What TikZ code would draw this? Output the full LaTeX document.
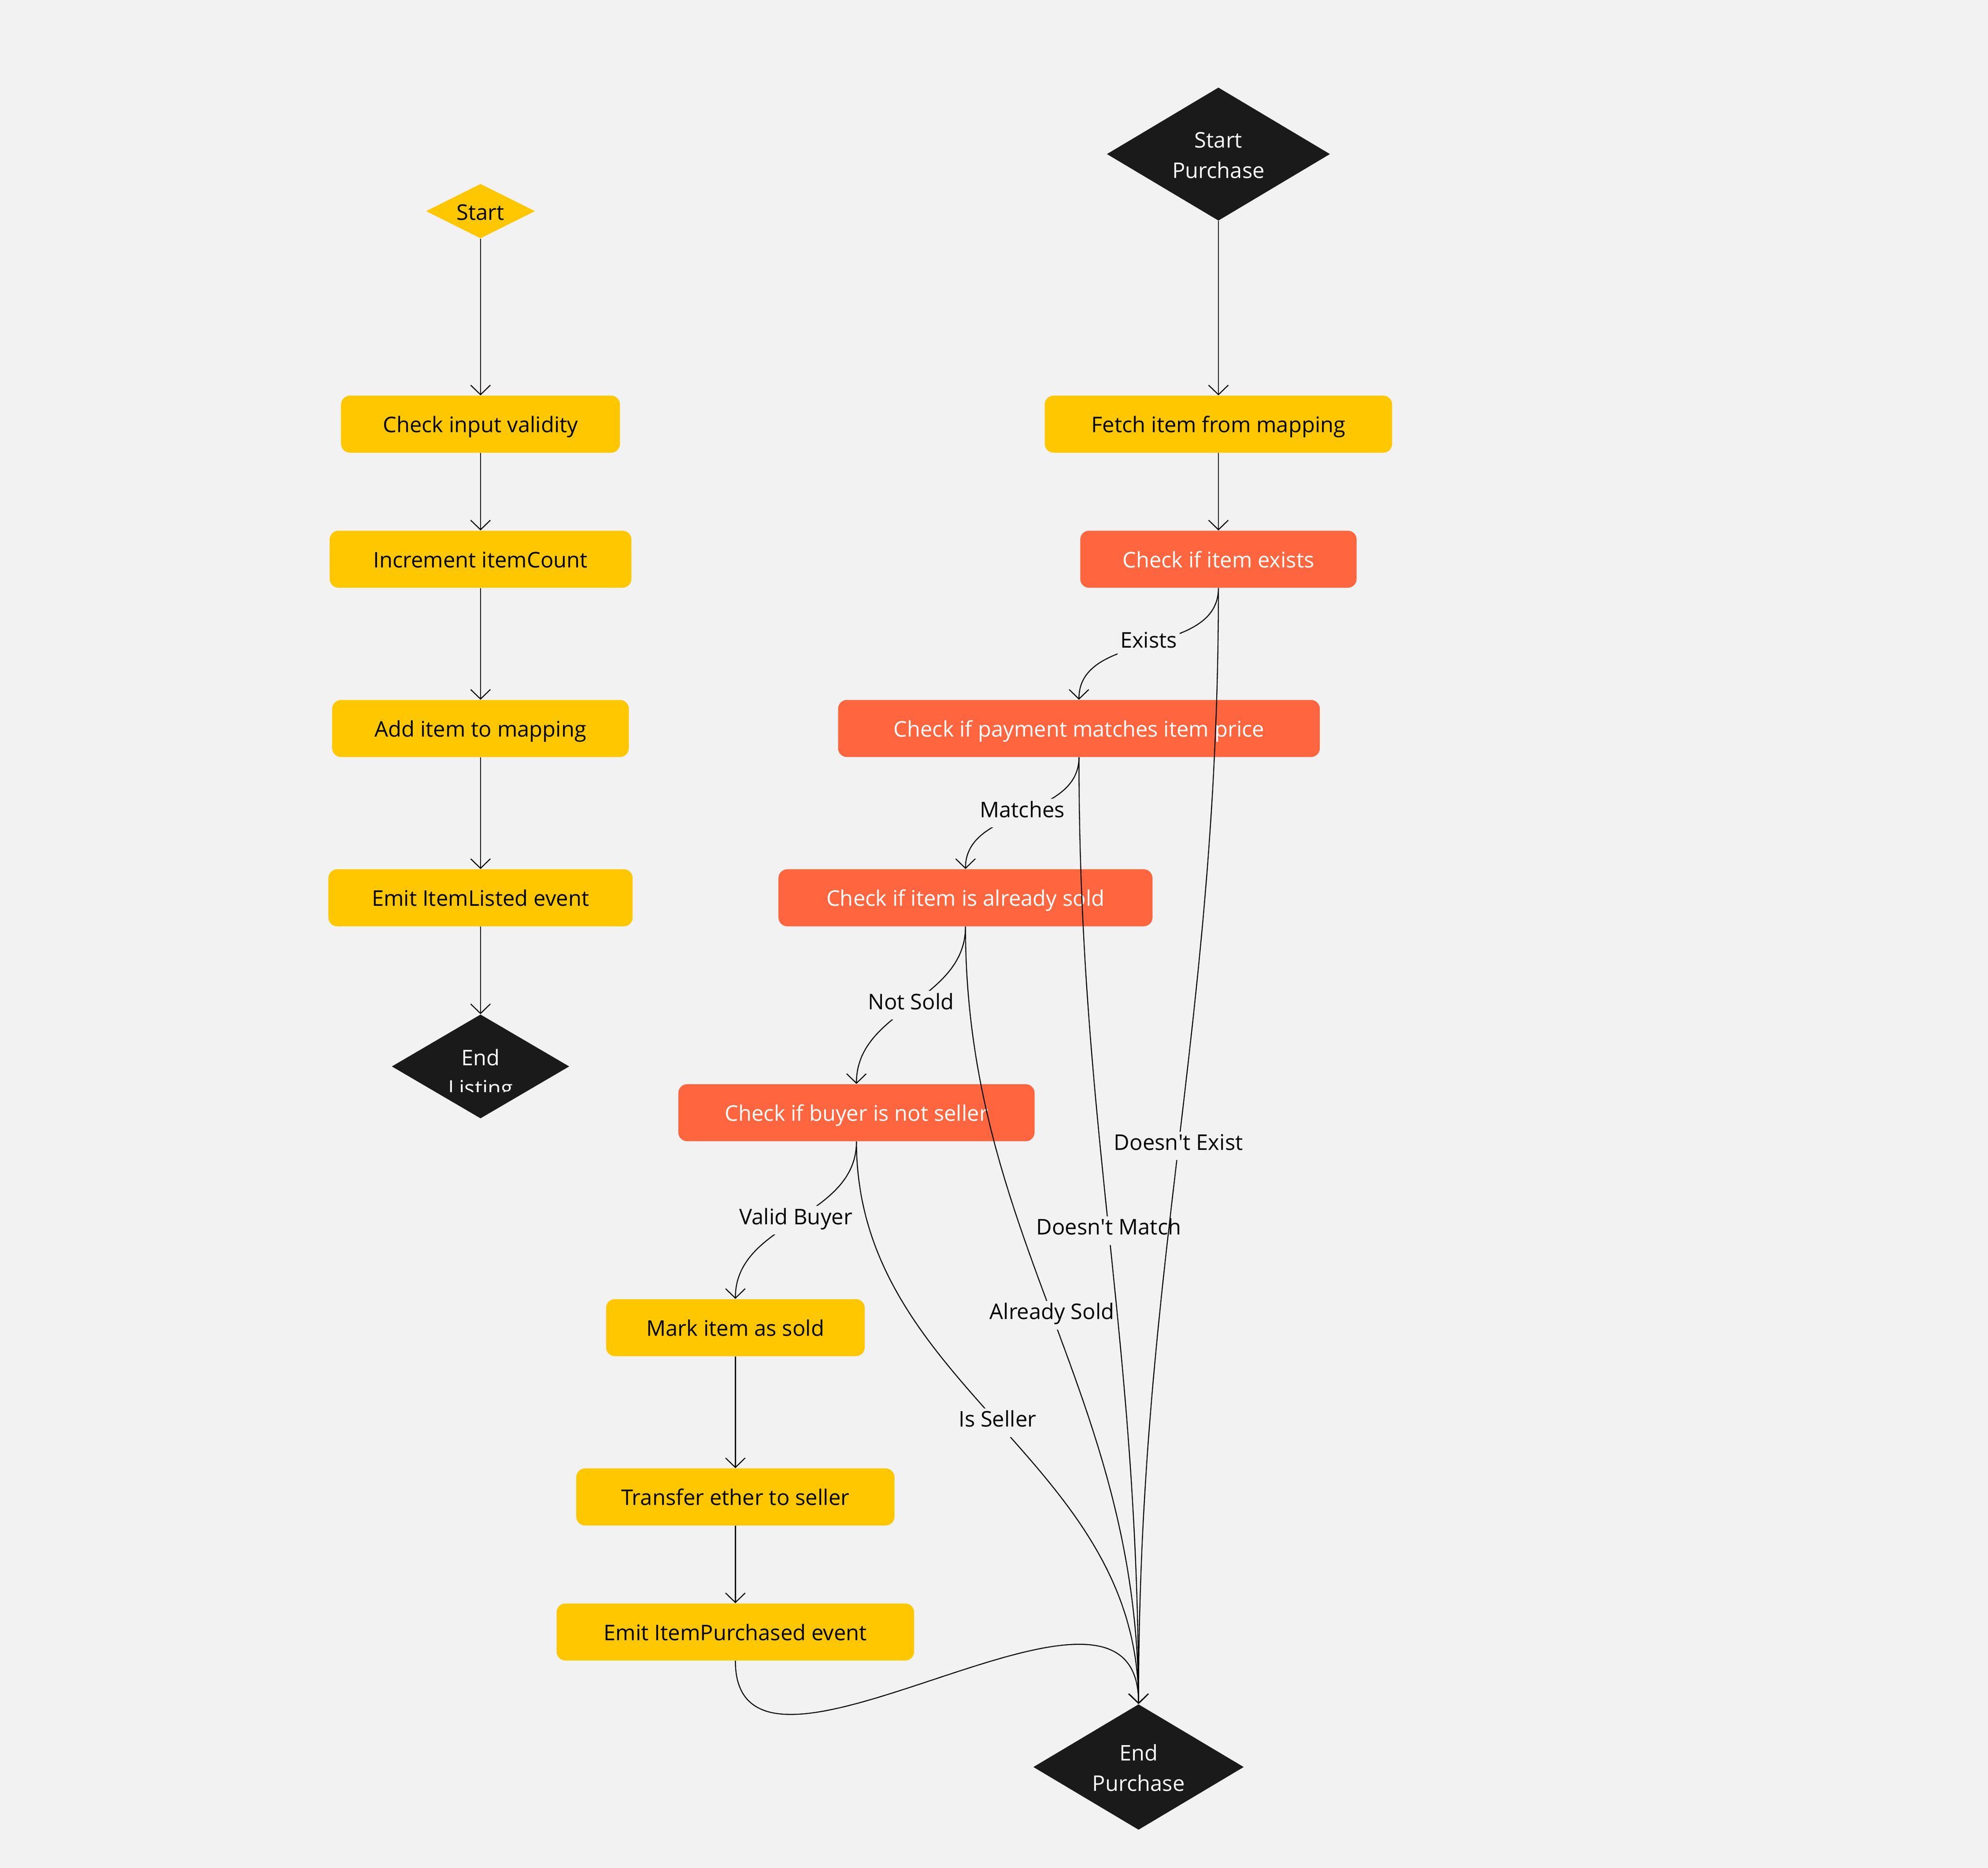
\documentclass[tikz,border=0pt]{standalone}
\usepackage{fontspec}
\setmainfont{Open Sans}
\usetikzlibrary{shapes.geometric,arrows.meta}
\definecolor{bgc}{HTML}{F2F2F2}
\definecolor{yel}{HTML}{FFC700}
\definecolor{org}{HTML}{FF6640}
\definecolor{blk}{HTML}{1A1A1A}
\begin{document}
\begin{tikzpicture}[x=1pt,y=1pt,
  txt/.style={font=\fontsize{17}{24}\selectfont},
  box/.style={txt, rectangle, rounded corners=7pt, minimum height=45pt, inner sep=0pt, text height=15pt, text depth=1.8pt},
  ybox/.style={box, fill=yel, text=black},
  obox/.style={box, fill=org, text=white},
  dia/.style={diamond, inner sep=0pt, fill=blk},
  dtext/.style={txt, align=center, text=white, inner sep=0pt},
  edge/.style={draw=black, line width=0.8pt, -{Straight Barb[length=7.5pt,width=15.5pt]}},
  lbl/.style={txt, fill=bgc, inner sep=2pt, text=black, text height=12.5pt, text depth=5.9pt}]

\fill[bgc] (0,0) rectangle (1568,-1473);
\useasboundingbox (0,0) rectangle (1568,-1473);

% ---------- Listing flow ----------
\node[dia, fill=yel, minimum width=86pt, minimum height=43pt] (start) at (379,-166.5) {};
\node[txt, text=black, inner sep=0pt] (starttxt) at (379,-167.5) {Start};
\node[ybox, minimum width=220pt] (civ) at (379,-334.5) {Check input validity};
\node[ybox, minimum width=238pt] (inc) at (379,-441) {Increment itemCount};
\node[ybox, minimum width=234pt] (add) at (379,-574.5) {Add item to mapping};
\node[ybox, minimum width=240pt] (emitl) at (379,-708) {Emit ItemListed event};
\node[dia, minimum width=140pt, minimum height=82pt] (endl) at (379,-841) {};
\begin{scope}
  \clip (0,-861) rectangle (1568,0);
  \node[dtext] (endltxt) at (379,-848) {End\\Listing};
\end{scope}

\draw[edge] (start.south) -- (civ.north);
\draw[edge] (civ.south) -- (inc.north);
\draw[edge] (inc.south) -- (add.north);
\draw[edge] (add.south) -- (emitl.north);
\draw[edge] (emitl.south) -- (endl.north);

% ---------- Purchase flow ----------
\node[dia, minimum width=176pt, minimum height=105pt] (sp) at (961,-121.5) {};
\node[dtext] (sptxt) at (961,-122.5) {Start\\Purchase};
\node[ybox, minimum width=274pt] (fetch) at (961,-334.5) {Fetch item from mapping};
\node[obox, minimum width=218pt] (exists) at (961,-441) {Check if item exists};
\node[obox, minimum width=380pt] (pay) at (851,-574.5) {Check if payment matches item price};
\node[obox, minimum width=295pt] (sold) at (761.5,-708) {Check if item is already sold};
\node[obox, minimum width=281pt] (buyer) at (675.5,-877.5) {Check if buyer is not seller};
\node[ybox, minimum width=204pt] (mark) at (580,-1047) {Mark item as sold};
\node[ybox, minimum width=251pt] (transfer) at (580,-1180.5) {Transfer ether to seller};
\node[ybox, minimum width=282pt] (emitp) at (580,-1287) {Emit ItemPurchased event};
\node[dia, minimum width=166pt, minimum height=99pt] (endp) at (898,-1393.5) {};
\node[dtext] (endptxt) at (898,-1394) {End\\Purchase};

\draw[edge] (sp.south) -- (fetch.north);
\draw[edge] (fetch.south) -- (exists.north);
\draw[edge] (exists.south) to[out=-90,in=90] node[lbl] (lexists) {Exists} (pay.north);
\draw[edge] (pay.south) to[out=-90,in=90] node[lbl] (lmatch) {Matches} (sold.north);
\draw[edge] (sold.south) to[out=-90,in=90] node[lbl] (lnots) {Not Sold} (buyer.north);
\draw[edge] (buyer.south) to[out=-90,in=90] node[lbl] (lvalid) {Valid Buyer} (mark.north);
\draw[edge] (mark.south) -- (transfer.north);
\draw[edge] (transfer.south) -- (emitp.north);

\draw[edge] (emitp.south) .. controls +(0,-135) and +(0,143) .. (endp.north);
\draw[edge] (buyer.south) to[out=-90,in=90] node[lbl] (lseller) {Is Seller} (endp.north);
\draw[edge] (sold.south) to[out=-90,in=90] node[lbl] (lasold) {Already Sold} (endp.north);
\draw[edge] (pay.south) to[out=-90,in=90] node[lbl] (ldmatch) {Doesn\textquotesingle t Match} (endp.north);
\draw[edge] (exists.south) to[out=-90,in=90] node[lbl] (ldexist) {Doesn\textquotesingle t Exist} (endp.north);
\end{tikzpicture}
\end{document}
